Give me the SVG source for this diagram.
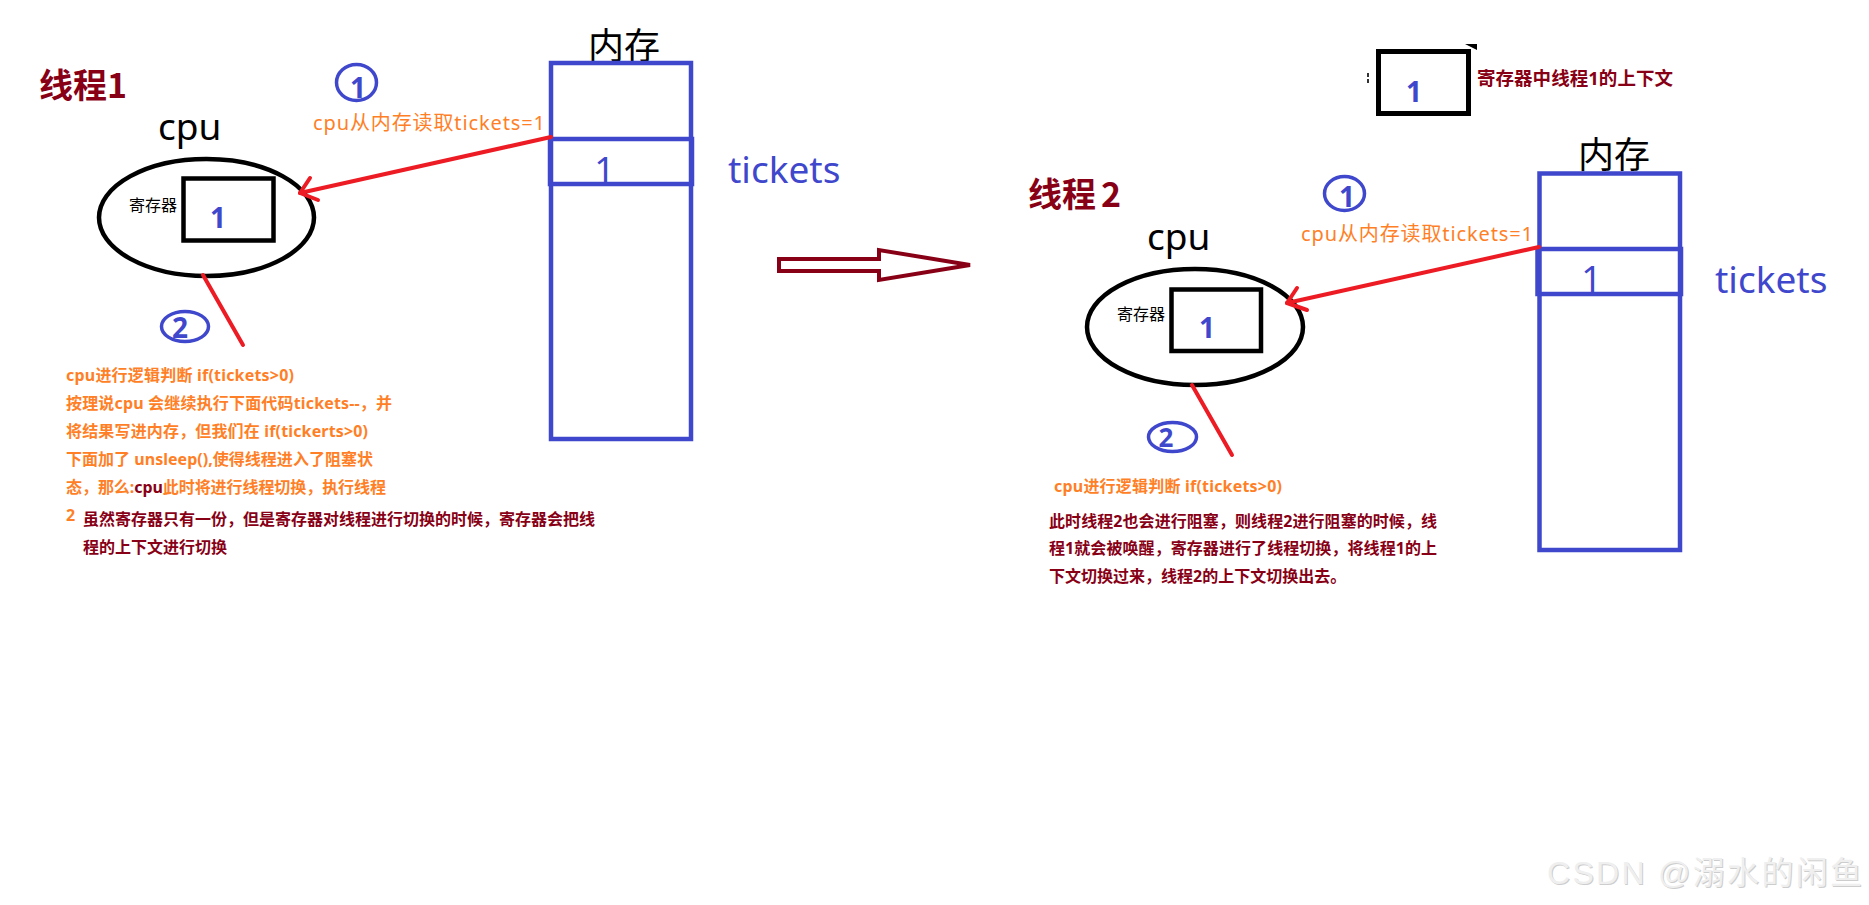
<svg xmlns="http://www.w3.org/2000/svg" width="1869" height="905" viewBox="0 0 1869 905">
<style>
.cjk{font-family:"Noto Sans","Noto Sans CJK SC",sans-serif}
.title{font-family:"Noto Sans CJK SC",sans-serif;font-weight:bold;font-size:34px;fill:#880015}
.mem{fill:none;stroke:#3F48CC;stroke-width:4.5}
.memlbl{font-family:"Noto Sans CJK SC",sans-serif;font-size:36px;fill:#000}
.cpulbl{font-family:"Noto Sans","Noto Sans CJK SC",sans-serif;font-size:37px;fill:#000}
.ell{fill:none;stroke:#000;stroke-width:4.5}
.reg{fill:none;stroke:#000;stroke-width:4.5}
.reglbl{font-family:"Noto Sans CJK SC",sans-serif;font-size:16px;fill:#000}
.bnum{font-family:"Noto Sans",sans-serif;font-weight:bold;font-size:28px;fill:#3F48CC;text-anchor:middle}
.cnum{font-family:"Noto Sans",sans-serif;font-size:36px;fill:#3F48CC;text-anchor:middle}
.tk{font-family:"Noto Sans",sans-serif;font-size:37px;fill:#3F48CC}
.badge{fill:none;stroke:#3F48CC;stroke-width:3.5}
.read{font-family:"Noto Sans","Noto Sans CJK SC",sans-serif;font-size:20px;fill:#FF7F27}
.or{font-family:"Noto Sans","Noto Sans CJK SC",sans-serif;font-weight:bold;font-size:16px;fill:#FF7F27}
.dr{font-family:"Noto Sans","Noto Sans CJK SC",sans-serif;font-weight:bold;font-size:16px;fill:#880015}
.red{fill:none;stroke:#ED1C24;stroke-width:4;stroke-linecap:round;stroke-linejoin:round}
</style>

<g id="thread1-title"><text class="title" x="39" y="98">线程1</text></g>

<g id="badge1-left">
<ellipse class="badge" cx="356.5" cy="82.5" rx="20" ry="18"/>
<text class="bnum" x="358" y="98">1</text>
</g>
<g id="read-label-left"><text class="read" x="313" y="130" textLength="232" lengthAdjust="spacing">cpu从内存读取tickets=1</text></g>

<g id="memory-left">
<text class="memlbl" x="588" y="59">内存</text>
<rect class="mem" x="551" y="63" width="140" height="376"/>
<rect class="mem" x="550" y="139" width="142" height="45"/>
<text class="cnum" x="604.5" y="183">1</text>
<text class="tk" x="728" y="183">tickets</text>
</g>

<g id="cpu-left">
<text class="cpulbl" x="158" y="140">cpu</text>
<ellipse class="ell" cx="206.5" cy="217.5" rx="107.5" ry="58.5"/>
<rect class="reg" x="183.5" y="178.5" width="90" height="62"/>
<text class="reglbl" x="129" y="211">寄存器</text>
<text class="bnum" x="218" y="228">1</text>
</g>

<g id="badge2-left">
<ellipse class="badge" cx="185" cy="326.5" rx="23.5" ry="15"/>
<text class="bnum" x="180" y="338">2</text>
</g>

<g id="text-left">
<text class="or" x="66" y="381" textLength="228" lengthAdjust="spacing">cpu进行逻辑判断 if(tickets&gt;0)</text>
<text class="or" x="66" y="409" textLength="326" lengthAdjust="spacing">按理说cpu 会继续执行下面代码tickets--，并</text>
<text class="or" x="66" y="437" textLength="302" lengthAdjust="spacing">将结果写进内存，但我们在 if(tickerts&gt;0)</text>
<text class="or" x="66" y="465" textLength="307" lengthAdjust="spacing">下面加了 unsleep(),使得线程进入了阻塞状</text>
<text class="or" x="66" y="493" textLength="320" lengthAdjust="spacing">态，那么:<tspan style="fill:#880015">cpu</tspan>此时将进行线程切换，执行线程</text>
<text class="or" x="66" y="521">2</text>
<text class="dr" x="83" y="525">虽然寄存器只有一份，但是寄存器对线程进行切换的时候，寄存器会把线</text>
<text class="dr" x="83" y="553">程的上下文进行切换</text>
</g>

<g id="legend">
<rect x="1378.5" y="51.5" width="90" height="62" fill="none" stroke="#000" stroke-width="5"/>
<polygon points="1465,44 1477,44 1477,50" fill="#000"/>
<rect x="1367" y="73" width="2" height="4" fill="#333"/>
<rect x="1367" y="79" width="2" height="4" fill="#333"/>
<text class="bnum" x="1414" y="102">1</text>
<text class="dr" x="1477" y="85" textLength="196" lengthAdjust="spacing" style="font-size:18.5px">寄存器中线程1的上下文</text>
</g>

<g id="thread2-title"><text class="title" x="1028" y="207">线程<tspan dx="5">2</tspan></text></g>

<g id="badge1-right">
<ellipse class="badge" cx="1344.5" cy="193.5" rx="20" ry="17"/>
<text class="bnum" x="1347" y="207">1</text>
</g>
<g id="read-label-right"><text class="read" x="1301" y="241" textLength="232" lengthAdjust="spacing">cpu从内存读取tickets=1</text></g>

<g id="memory-right">
<text class="memlbl" x="1578" y="168">内存</text>
<rect class="mem" x="1539.5" y="173.5" width="140.5" height="376.5"/>
<rect class="mem" x="1537.5" y="249" width="143.5" height="45"/>
<text class="cnum" x="1591.5" y="292">1</text>
<text class="tk" x="1715" y="293">tickets</text>
</g>

<g id="cpu-right">
<text class="cpulbl" x="1147" y="250">cpu</text>
<ellipse class="ell" cx="1195" cy="327" rx="108" ry="58"/>
<rect class="reg" x="1171.5" y="289.5" width="89.5" height="61.5"/>
<text class="reglbl" x="1117" y="320">寄存器</text>
<text class="bnum" x="1207" y="338">1</text>
</g>

<g id="badge2-right">
<ellipse class="badge" cx="1172.5" cy="437" rx="24" ry="14.5"/>
<text class="bnum" x="1166" y="447" style="font-size:26px">2</text>
</g>

<g id="text-right">
<text class="or" x="1054" y="492" textLength="228" lengthAdjust="spacing">cpu进行逻辑判断 if(tickets&gt;0)</text>
<text class="dr" x="1049" y="527" textLength="388" lengthAdjust="spacing">此时线程2也会进行阻塞，则线程2进行阻塞的时候，线</text>
<text class="dr" x="1049" y="554" textLength="388" lengthAdjust="spacing">程1就会被唤醒，寄存器进行了线程切换，将线程1的上</text>
<text class="dr" x="1049" y="582">下文切换过来，线程2的上下文切换出去。</text>
</g>

<g id="connectors">
<line class="red" x1="551" y1="137" x2="300" y2="193"/>
<polyline class="red" points="310,178 300,193 318,200"/>
<line class="red" x1="203" y1="275" x2="243" y2="345"/>
<line class="red" x1="1539" y1="247" x2="1287" y2="303"/>
<polyline class="red" points="1297,288 1287,303 1307,310"/>
<line class="red" x1="1192" y1="385" x2="1232" y2="455"/>
<polygon points="779,259 879,259 879,250 970,265 879,280 879,271 779,271" fill="none" stroke="#880015" stroke-width="4" stroke-linejoin="miter"/>
</g>

<g id="watermark">
<text x="1548" y="885" textLength="315" lengthAdjust="spacing" style="font-family:'Liberation Sans','Noto Sans CJK SC',sans-serif;font-size:32px;fill:#cdcdcd">CSDN @溺水的闲鱼</text>
<text x="1547" y="884" textLength="315" lengthAdjust="spacing" style="font-family:'Liberation Sans','Noto Sans CJK SC',sans-serif;font-size:32px;fill:#efefef">CSDN @溺水的闲鱼</text>
</g>
</svg>
